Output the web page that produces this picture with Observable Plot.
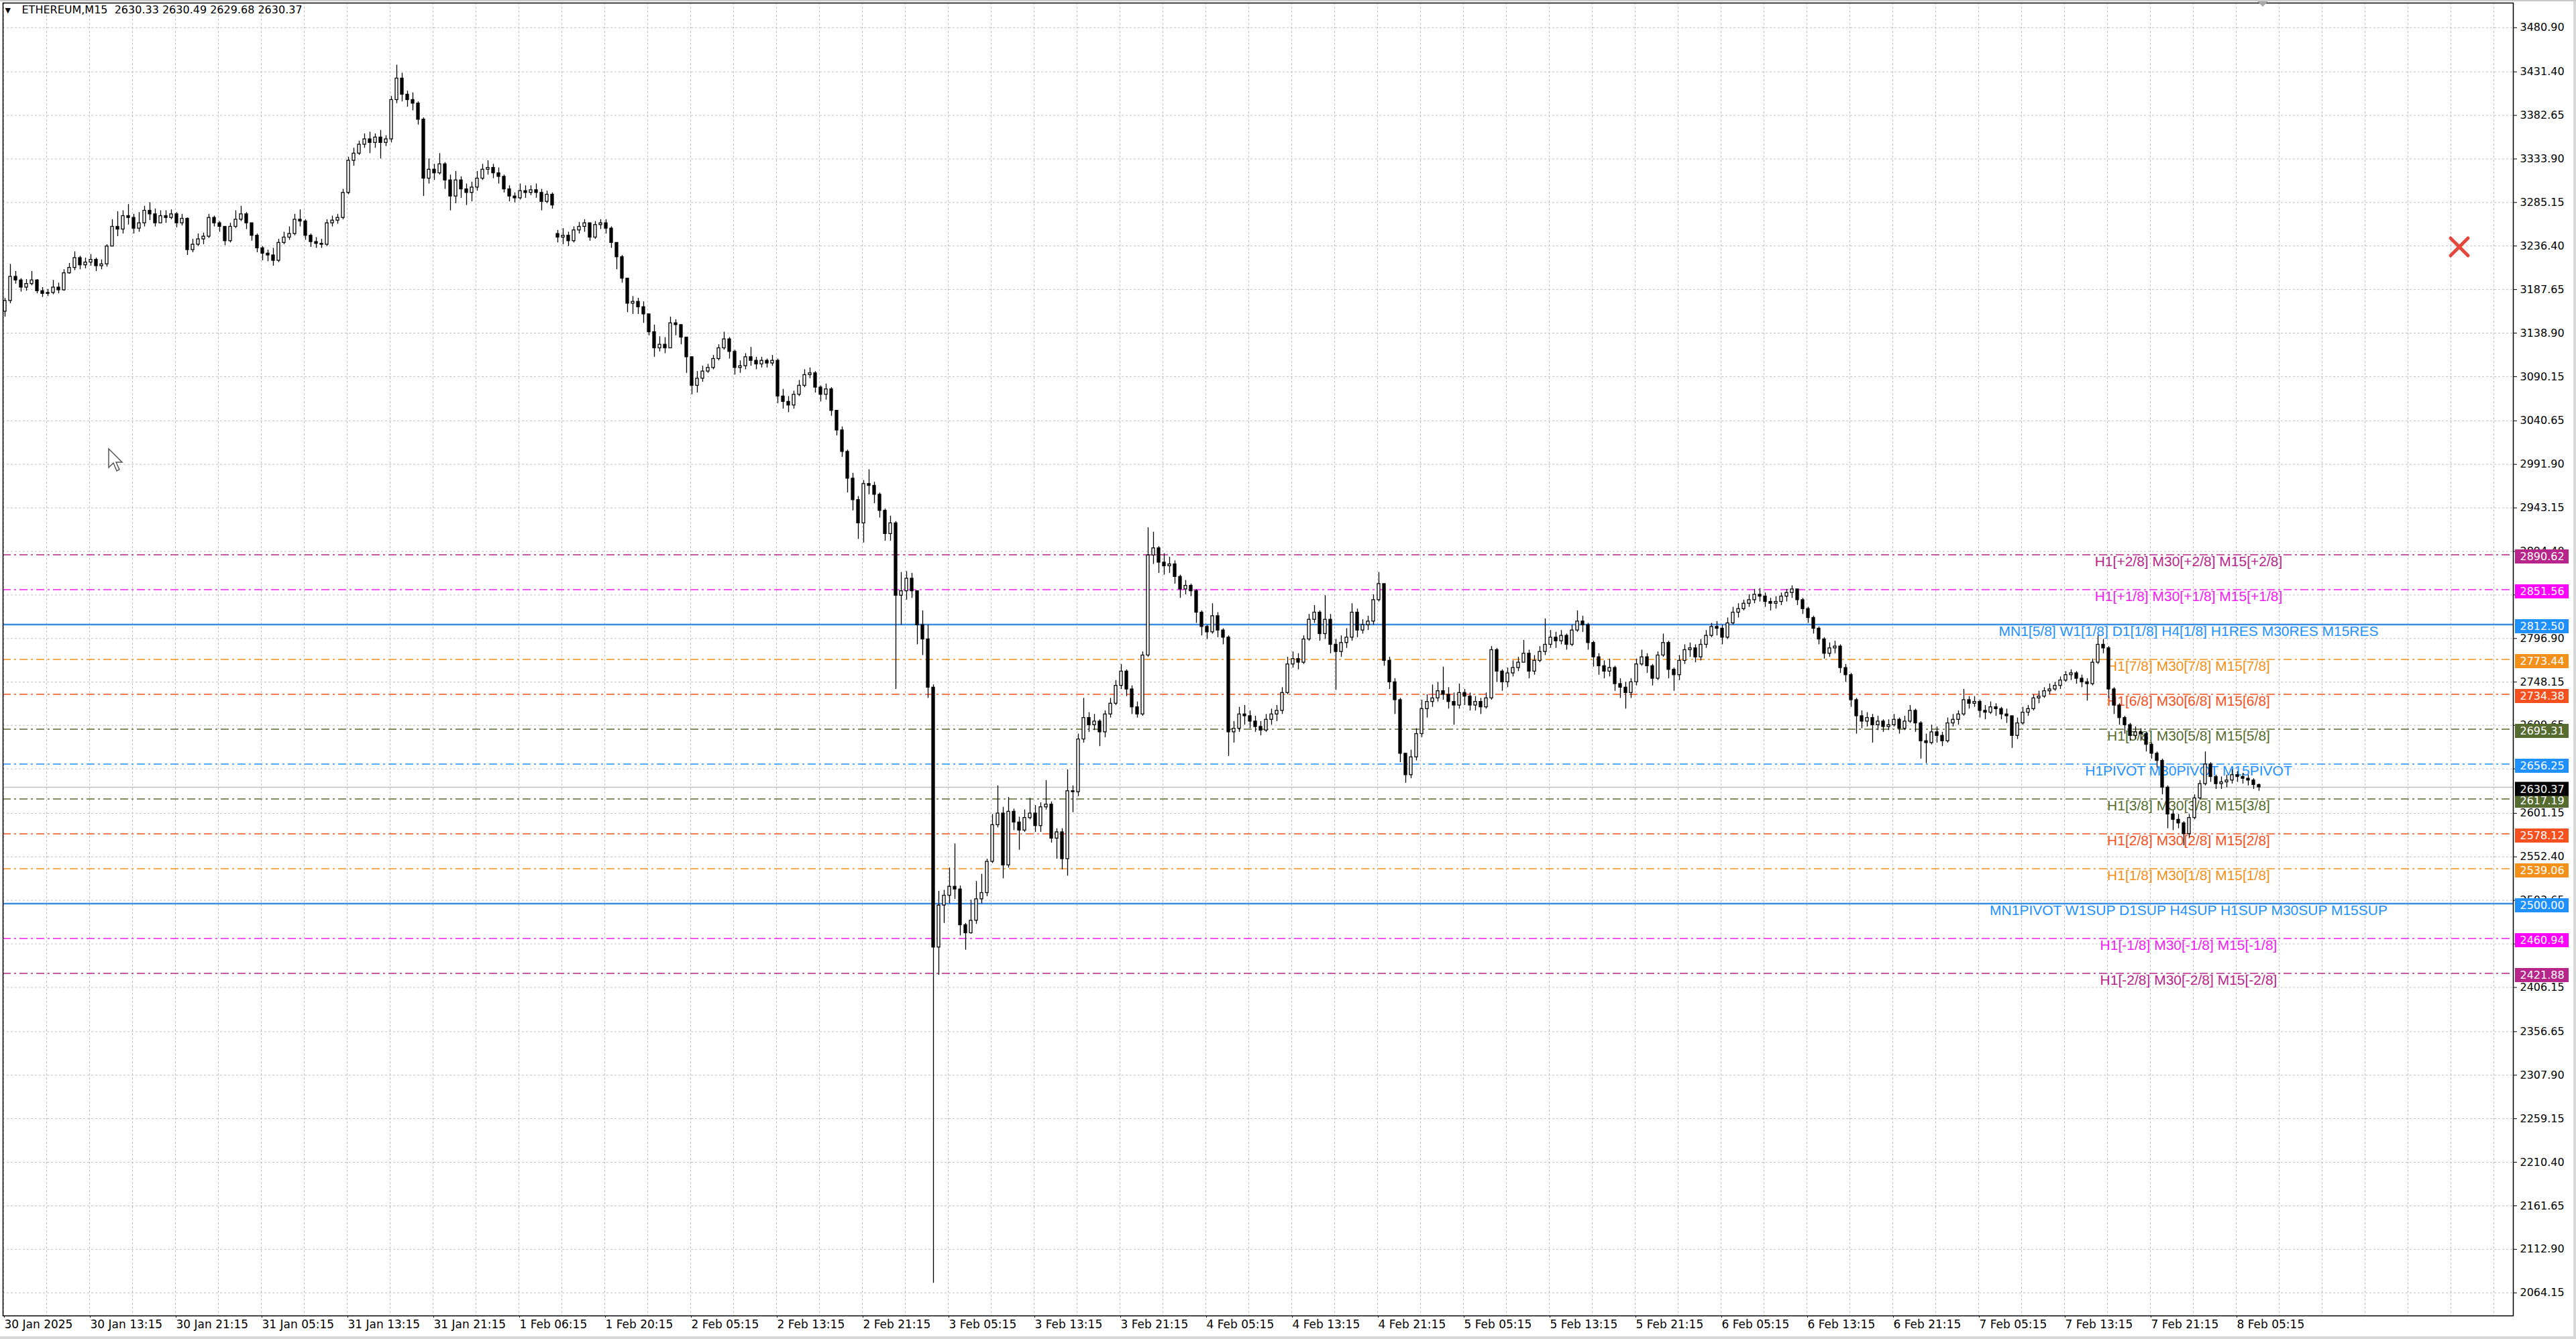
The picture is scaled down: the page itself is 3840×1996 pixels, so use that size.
<!DOCTYPE html>
<html>
<head>
<meta charset="utf-8">
<script src="https://cdn.jsdelivr.net/npm/d3@7"></script>
<script src="https://cdn.jsdelivr.net/npm/@observablehq/plot@0.6"></script>
<style>
  body { margin: 0; background: #fff; }
  #chart { position: relative; width: 3840px; height: 1996px; overflow: hidden; background: #fff; }
  .deco { position: absolute; }
</style>
</head>
<body>
<div id="chart"></div>
<script>
/* global d3, Plot */

// ETHEREUM M15, shown as 30-minute candles
const titleText = 'ETHEREUM,M15\u00a0\u00a02630.33 2630.49 2629.68 2630.37';
const firstOpen = 3163;
const gapOpens = new Map([[103, 3250]]); // weekend break on 1 Feb

const closes = [
  3175, 3202, 3198, 3190, 3194, 3198, 3186, 3183, 3184, 3190,
  3187, 3206, 3212, 3223, 3215, 3218, 3221, 3214, 3216, 3236,
  3258, 3255, 3270, 3268, 3256, 3262, 3276, 3272, 3262, 3270,
  3268, 3272, 3262, 3267, 3232, 3238, 3244, 3247, 3268, 3262,
  3258, 3242, 3258, 3266, 3272, 3262, 3248, 3234, 3228, 3226,
  3220, 3240, 3246, 3250, 3266, 3264, 3248, 3241, 3239, 3238,
  3262, 3265, 3268, 3296, 3332, 3340, 3350, 3356, 3352, 3358,
  3352, 3356, 3400, 3424, 3406, 3400, 3396, 3378, 3312, 3322,
  3318, 3328, 3310, 3292, 3310, 3300, 3296, 3302, 3312, 3322,
  3324, 3318, 3314, 3300, 3292, 3290, 3298, 3296, 3299, 3296,
  3286, 3294, 3282, 3246, 3248, 3242, 3254, 3258, 3262, 3246,
  3260, 3262, 3256, 3240, 3224, 3200, 3172, 3174, 3168, 3160,
  3140, 3122, 3126, 3122, 3150, 3148, 3134, 3112, 3080, 3088,
  3096, 3100, 3110, 3122, 3132, 3118, 3100, 3102, 3112, 3108,
  3104, 3108, 3105, 3108, 3068, 3062, 3058, 3070, 3080, 3092,
  3094, 3078, 3070, 3076, 3052, 3030, 3006, 2976, 2952, 2926,
  2970, 2968, 2958, 2940, 2914, 2926, 2845, 2850, 2864, 2850,
  2812, 2796, 2742, 2451, 2498, 2509, 2519, 2516, 2476, 2467,
  2481, 2505, 2512, 2547, 2588, 2601, 2543, 2603, 2591, 2582,
  2596, 2601, 2587, 2608, 2611, 2573, 2580, 2550, 2626, 2625,
  2684, 2708, 2700, 2704, 2692, 2712, 2724, 2744, 2760, 2740,
  2720, 2712, 2778, 2890, 2898, 2882, 2878, 2880, 2866, 2852,
  2856, 2850, 2826, 2810, 2804, 2822, 2806, 2798, 2692, 2696,
  2712, 2710, 2704, 2698, 2694, 2706, 2712, 2716, 2736, 2768,
  2774, 2770, 2796, 2818, 2826, 2802, 2818, 2790, 2782, 2792,
  2798, 2826, 2806, 2812, 2816, 2840, 2858, 2772, 2748, 2728,
  2668, 2644, 2664, 2690, 2718, 2726, 2730, 2738, 2734, 2726,
  2722, 2736, 2732, 2722, 2726, 2720, 2730, 2784, 2760, 2748,
  2758, 2764, 2770, 2780, 2760, 2772, 2782, 2790, 2798, 2794,
  2800, 2790, 2806, 2816, 2812, 2792, 2776, 2766, 2760, 2764,
  2746, 2742, 2736, 2748, 2768, 2776, 2766, 2752, 2778, 2792,
  2762, 2756, 2772, 2784, 2786, 2776, 2790, 2800, 2810, 2808,
  2798, 2814, 2826, 2830, 2836, 2840, 2846, 2844, 2838, 2836,
  2838, 2844, 2848, 2852, 2840, 2830, 2820, 2808, 2796, 2780,
  2786, 2788, 2764, 2756, 2728, 2710, 2704, 2708, 2700, 2704,
  2698, 2700, 2706, 2696, 2704, 2716, 2702, 2682, 2680, 2692,
  2688, 2682, 2702, 2706, 2712, 2728, 2724, 2726, 2716, 2714,
  2720, 2718, 2712, 2710, 2688, 2702, 2714, 2718, 2730, 2732,
  2738, 2740, 2744, 2750, 2756, 2758, 2752, 2748, 2746, 2770,
  2790, 2786, 2740, 2722, 2708, 2700, 2688, 2692, 2690, 2678,
  2668, 2660, 2630, 2600, 2594, 2590, 2578, 2596, 2618, 2634,
  2656, 2642, 2634, 2636, 2638, 2644, 2642, 2640, 2638, 2633,
  2630.37
];

const highs = [
  3178, 3216, 3208, 3200, 3199, 3208, 3199, 3190, 3188, 3198,
  3195, 3210, 3217, 3230, 3225, 3223, 3227, 3223, 3221, 3238,
  3266, 3275, 3276, 3283, 3272, 3274, 3281, 3285, 3278, 3276,
  3276, 3277, 3274, 3272, 3268, 3244, 3250, 3251, 3272, 3270,
  3264, 3258, 3262, 3276, 3281, 3274, 3262, 3250, 3236, 3232,
  3234, 3244, 3252, 3258, 3272, 3277, 3266, 3250, 3246, 3244,
  3266, 3270, 3272, 3300, 3336, 3346, 3354, 3362, 3364, 3362,
  3366, 3360, 3404, 3439, 3430, 3410, 3408, 3398, 3380, 3334,
  3328, 3340, 3330, 3316, 3320, 3314, 3306, 3308, 3320, 3328,
  3332, 3328, 3324, 3316, 3304, 3296, 3306, 3304, 3304, 3306,
  3300, 3298, 3296, 3254, 3256, 3252, 3258, 3263, 3266, 3262,
  3264, 3266, 3266, 3258, 3240, 3226, 3200, 3180, 3178, 3174,
  3160, 3148, 3135, 3134, 3157, 3154, 3148, 3134, 3112, 3096,
  3102, 3104, 3114, 3126, 3140, 3134, 3120, 3108, 3116, 3123,
  3112, 3112, 3110, 3114, 3110, 3076, 3068, 3074, 3086, 3098,
  3100, 3096, 3080, 3082, 3078, 3052, 3034, 3008, 2982, 2956,
  2974, 2986, 2972, 2960, 2942, 2934, 2928, 2871, 2872, 2870,
  2850, 2828, 2812, 2745, 2514, 2515, 2540, 2567, 2520, 2478,
  2504, 2525, 2533, 2550, 2600, 2632, 2608, 2619, 2606, 2597,
  2605, 2618, 2610, 2613, 2638, 2614, 2584, 2584, 2650, 2632,
  2690, 2730, 2714, 2712, 2706, 2716, 2730, 2750, 2768, 2762,
  2744, 2726, 2782, 2921, 2916, 2900, 2892, 2888, 2884, 2868,
  2862, 2858, 2852, 2828, 2812, 2836, 2826, 2808, 2800, 2704,
  2720, 2722, 2716, 2710, 2704, 2712, 2718, 2722, 2742, 2776,
  2782, 2780, 2800, 2824, 2834, 2828, 2845, 2824, 2796, 2800,
  2808, 2836, 2830, 2818, 2822, 2846, 2871, 2858, 2776, 2752,
  2730, 2668, 2672, 2696, 2728, 2734, 2745, 2748, 2765, 2742,
  2736, 2746, 2740, 2736, 2732, 2730, 2736, 2788, 2786, 2762,
  2764, 2772, 2776, 2795, 2784, 2778, 2788, 2819, 2806, 2804,
  2806, 2802, 2812, 2828, 2822, 2814, 2794, 2780, 2772, 2774,
  2766, 2752, 2748, 2752, 2774, 2784, 2780, 2768, 2782, 2802,
  2794, 2764, 2778, 2790, 2792, 2790, 2796, 2806, 2814, 2816,
  2812, 2820, 2832, 2836, 2840, 2846, 2852, 2853, 2848, 2842,
  2844, 2848, 2852, 2856, 2852, 2842, 2832, 2822, 2810, 2798,
  2792, 2794, 2790, 2768, 2758, 2730, 2716, 2714, 2712, 2710,
  2706, 2706, 2712, 2708, 2710, 2722, 2718, 2704, 2690, 2700,
  2698, 2692, 2708, 2712, 2716, 2740, 2732, 2732, 2728, 2722,
  2726, 2724, 2720, 2718, 2710, 2708, 2720, 2722, 2734, 2738,
  2742, 2746, 2748, 2754, 2760, 2762, 2760, 2756, 2752, 2774,
  2800, 2796, 2788, 2742, 2724, 2710, 2702, 2698, 2696, 2692,
  2680, 2670, 2662, 2632, 2604, 2600, 2592, 2600, 2622, 2638,
  2670, 2658, 2644, 2642, 2644, 2650, 2648, 2646, 2644, 2640,
  2634
];

const lows = [
  3157, 3172, 3194, 3185, 3186, 3192, 3183, 3179, 3180, 3182,
  3183, 3186, 3205, 3209, 3210, 3211, 3214, 3208, 3210, 3213,
  3236, 3247, 3250, 3260, 3250, 3252, 3258, 3265, 3258, 3262,
  3262, 3266, 3257, 3259, 3226, 3229, 3236, 3238, 3245, 3258,
  3252, 3237, 3240, 3256, 3264, 3255, 3242, 3229, 3220, 3219,
  3214, 3218, 3238, 3243, 3248, 3258, 3243, 3235, 3234, 3234,
  3236, 3258, 3261, 3266, 3294, 3326, 3338, 3346, 3340, 3346,
  3334, 3348, 3352, 3396, 3398, 3392, 3388, 3372, 3292, 3306,
  3310, 3316, 3300, 3276, 3284, 3290, 3282, 3286, 3298, 3310,
  3316, 3312, 3306, 3296, 3286, 3285, 3288, 3290, 3293, 3290,
  3276, 3284, 3278, 3240, 3238, 3236, 3240, 3250, 3252, 3242,
  3244, 3255, 3250, 3234, 3210, 3195, 3162, 3160, 3160, 3150,
  3136, 3112, 3118, 3116, 3122, 3136, 3126, 3094, 3070, 3072,
  3084, 3094, 3098, 3108, 3120, 3110, 3092, 3094, 3098, 3102,
  3098, 3100, 3100, 3102, 3060, 3054, 3050, 3054, 3068, 3078,
  3088, 3072, 3062, 3064, 3046, 3024, 3000, 2960, 2940, 2908,
  2904, 2958, 2948, 2932, 2906, 2906, 2740, 2812, 2840, 2842,
  2790, 2778, 2730, 2075, 2420, 2478, 2500, 2505, 2464, 2448,
  2466, 2477, 2500, 2508, 2545, 2585, 2528, 2540, 2582, 2560,
  2580, 2594, 2580, 2580, 2605, 2568, 2550, 2538, 2531, 2602,
  2620, 2680, 2692, 2694, 2676, 2686, 2708, 2722, 2740, 2732,
  2712, 2708, 2710, 2776, 2880, 2870, 2868, 2870, 2858, 2842,
  2846, 2844, 2814, 2800, 2796, 2802, 2798, 2790, 2665, 2680,
  2692, 2700, 2696, 2692, 2688, 2692, 2700, 2704, 2712, 2734,
  2764, 2762, 2768, 2794, 2814, 2794, 2796, 2780, 2739, 2776,
  2786, 2794, 2798, 2802, 2806, 2812, 2838, 2766, 2740, 2712,
  2658, 2635, 2640, 2660, 2686, 2708, 2720, 2726, 2728, 2718,
  2700, 2718, 2722, 2716, 2716, 2712, 2718, 2728, 2748, 2738,
  2742, 2754, 2760, 2770, 2752, 2756, 2770, 2778, 2786, 2786,
  2790, 2784, 2788, 2804, 2804, 2784, 2765, 2756, 2752, 2754,
  2738, 2730, 2718, 2730, 2744, 2766, 2758, 2744, 2750, 2776,
  2752, 2738, 2750, 2768, 2776, 2770, 2772, 2786, 2798, 2800,
  2790, 2796, 2812, 2820, 2828, 2832, 2836, 2838, 2832, 2828,
  2830, 2834, 2838, 2842, 2834, 2824, 2814, 2802, 2790, 2774,
  2776, 2780, 2758, 2748, 2720, 2690, 2696, 2698, 2680, 2694,
  2692, 2694, 2698, 2690, 2694, 2702, 2692, 2662, 2657, 2678,
  2680, 2676, 2680, 2698, 2700, 2710, 2718, 2720, 2708, 2706,
  2712, 2710, 2706, 2702, 2674, 2684, 2700, 2710, 2716, 2724,
  2730, 2734, 2738, 2740, 2748, 2750, 2746, 2742, 2727, 2744,
  2768, 2780, 2730, 2712, 2700, 2690, 2682, 2684, 2682, 2670,
  2662, 2652, 2622, 2584, 2582, 2584, 2565, 2574, 2594, 2616,
  2632, 2636, 2628, 2628, 2630, 2634, 2636, 2634, 2632, 2628,
  2626
];

// price scale labels as printed by the terminal
const yTicks = [
  3480.90, 3431.40, 3382.65, 3333.90, 3285.15, 3236.40, 3187.65, 3138.90, 3090.15, 3040.65,
  2991.90, 2943.15, 2894.40, 2845.65, 2796.90, 2748.15, 2699.65, 2650.90, 2601.15, 2552.40,
  2503.65, 2454.90, 2406.15, 2356.65, 2307.90, 2259.15, 2210.40, 2161.65, 2112.90, 2064.15
];

// time labels, one every 32 M15 bars
const xLabels = [
  '30 Jan 2025', '30 Jan 13:15', '30 Jan 21:15', '31 Jan 05:15', '31 Jan 13:15', '31 Jan 21:15',
  '1 Feb 06:15', '1 Feb 20:15', '2 Feb 05:15', '2 Feb 13:15', '2 Feb 21:15', '3 Feb 05:15',
  '3 Feb 13:15', '3 Feb 21:15', '4 Feb 05:15', '4 Feb 13:15', '4 Feb 21:15', '5 Feb 05:15',
  '5 Feb 13:15', '5 Feb 21:15', '6 Feb 05:15', '6 Feb 13:15', '6 Feb 21:15', '7 Feb 05:15',
  '7 Feb 13:15', '7 Feb 21:15', '8 Feb 05:15'
];
const xLabelBars = xLabels.map((d, k) => k * 32);
const gridBars = d3.range(0, 929, 16);

// Murrey math / pivot levels
const levelPrices = [2890.62, 2851.56, 2812.50, 2773.44, 2734.38, 2695.31, 2656.25, 2617.19, 2578.12, 2539.06, 2500.00, 2460.94, 2421.88];
const levelLabels = [
  'H1[+2/8] M30[+2/8] M15[+2/8]',
  'H1[+1/8] M30[+1/8] M15[+1/8]',
  'MN1[5/8] W1[1/8] D1[1/8] H4[1/8] H1RES M30RES M15RES',
  'H1[7/8] M30[7/8] M15[7/8]',
  'H1[6/8] M30[6/8] M15[6/8]',
  'H1[5/8] M30[5/8] M15[5/8]',
  'H1PIVOT M30PIVOT M15PIVOT',
  'H1[3/8] M30[3/8] M15[3/8]',
  'H1[2/8] M30[2/8] M15[2/8]',
  'H1[1/8] M30[1/8] M15[1/8]',
  'MN1PIVOT W1SUP D1SUP H4SUP H1SUP M30SUP M15SUP',
  'H1[-1/8] M30[-1/8] M15[-1/8]',
  'H1[-2/8] M30[-2/8] M15[-2/8]'
];
const levelColors = ['#b8258a', '#f01cf0', '#1e90ff', '#f39019', '#f5501e', '#556b2f', '#1e90ff', '#556b2f', '#f5501e', '#f39019', '#1e90ff', '#f01cf0', '#b8258a'];
const levelSolid = [false, false, true, false, false, false, false, false, false, false, true, false, false];

const bars = closes.map((close, j) => ({
  x: 2 * j + 0.5,
  open: gapOpens.has(j) ? gapOpens.get(j) : (j === 0 ? firstOpen : closes[j - 1]),
  close,
  high: highs[j],
  low: lows[j]
}));
const lastClose = closes[closes.length - 1];

const levels = levelPrices.map((price, k) => ({
  price, label: levelLabels[k], color: levelColors[k], solid: levelSolid[k]
}));
const boxes = levels.map(d => ({ price: d.price, color: d.color === '#f01cf0' ? '#ff00ff' : d.color }))
  .concat([{ price: lastClose, color: '#000000' }]);

const xDomain = [-0.25, 935.25];
const yDomain = [2038.4, 3508.5];
const pxPerUnit = (1996 - 35 - 4) / (yDomain[1] - yDomain[0]);
const halfBox = 10.5 / pxPerUnit;
const boxX = xDomain[1] + 0.75;
const labelX = 814.25;

const chart = Plot.plot({
  width: 3840,
  height: 1996,
  marginLeft: 4,
  marginRight: 94,
  marginTop: 4,
  marginBottom: 35,
  style: { fontFamily: "'DejaVu Sans', Verdana, sans-serif", fontSize: '16px', color: '#000', background: '#fff', overflow: 'visible' },
  x: { type: 'linear', domain: xDomain },
  y: { domain: yDomain },
  color: { type: 'identity' },
  marks: [
    Plot.ruleY(yTicks, { y: d => d, stroke: '#c0c0c0', strokeDasharray: '3,3' }),
    Plot.ruleX(gridBars, { x: d => d, stroke: '#c0c0c0', strokeDasharray: '3,3' }),
    Plot.ruleY(levels.filter(d => !d.solid), { y: 'price', stroke: 'color', strokeWidth: 1.4, strokeDasharray: '12,5,3,5' }),
    Plot.ruleY(levels.filter(d => d.solid), { y: 'price', stroke: '#3d8ee0', strokeWidth: 2.4 }),
    Plot.ruleY([lastClose], { y: d => d, stroke: '#c0c0c0', strokeWidth: 1.4 }),
    Plot.text(levels, {
      x: () => labelX, y: 'price', text: 'label', fill: 'color',
      textAnchor: 'middle', lineAnchor: 'top', dy: 2,
      fontSize: 21, fontFamily: "'Liberation Sans', Arial, sans-serif"
    }),
    Plot.ruleX(bars, { x: 'x', y1: 'low', y2: 'high', stroke: '#000', strokeWidth: 1.3 }),
    Plot.rect(bars, {
      x1: d => d.x - 0.5,
      x2: d => d.x + 0.5,
      y1: 'open',
      y2: d => (Math.abs(d.close - d.open) < 0.8 ? d.open + 0.8 : d.close),
      fill: d => (d.close >= d.open ? '#fff' : '#000'),
      stroke: '#000',
      strokeWidth: 1.3
    }),
    Plot.frame({ stroke: '#000', strokeWidth: 1.5 }),
    Plot.axisY(yTicks, {
      anchor: 'right', tickSize: 5, tickPadding: 5, label: null,
      tickFormat: d => d.toFixed(2), fontSize: 16
    }),
    Plot.axisX(xLabelBars, {
      anchor: 'bottom', tickSize: 3, tickPadding: 3, label: null,
      tickFormat: d => xLabels[d / 32], textAnchor: 'start', dx: 1, fontSize: 17
    }),
    Plot.rect(boxes, {
      x1: () => boxX, x2: () => boxX + 20,
      y1: d => d.price - halfBox, y2: d => d.price + halfBox,
      fill: 'color', dy: 3
    }),
    Plot.text(boxes, {
      x: () => boxX, y: 'price', text: d => d.price.toFixed(2),
      fill: '#fff', textAnchor: 'start', dx: 7, dy: 3, fontSize: 16
    }),
    Plot.text(['\u25BC'], { frameAnchor: 'top-left', dx: 3, dy: 7, fontSize: 11 }),
    Plot.text([titleText], { frameAnchor: 'top-left', dx: 28, dy: 4, fontSize: 16 })
  ]
});

const holder = document.getElementById('chart');
holder.append(chart);

// terminal decorations: delete cross, mouse pointer, chart shift marker, window edges
holder.insertAdjacentHTML('beforeend', `
<svg class="deco" style="left:3648px;top:350px" width="36" height="36">
  <line x1="5" y1="5" x2="31" y2="31" stroke="#e4473c" stroke-width="5" stroke-linecap="round"/>
  <line x1="31" y1="5" x2="5" y2="31" stroke="#e4473c" stroke-width="5" stroke-linecap="round"/>
</svg>
<svg class="deco" style="left:160px;top:667px" width="26" height="40">
  <path d="M2,2 L2,30 L9,23 L14,35 L18,33 L13,22 L22,22 Z" fill="#fff" stroke="#555" stroke-width="1.5"/>
</svg>
<svg class="deco" style="left:3364px;top:0px" width="18" height="12">
  <path d="M1,2 L17,2 L9,10 Z" fill="#a8a8a8"/>
</svg>
<div class="deco" style="left:3836px;top:0;width:4px;height:1996px;background:#d8d8d8"></div>
<div class="deco" style="left:0;top:1992px;width:3840px;height:4px;background:#d8d8d8"></div>
<div class="deco" style="left:0;top:0;width:3840px;height:2px;background:#c8c8c8"></div>
`);
</script>
</body>
</html>
